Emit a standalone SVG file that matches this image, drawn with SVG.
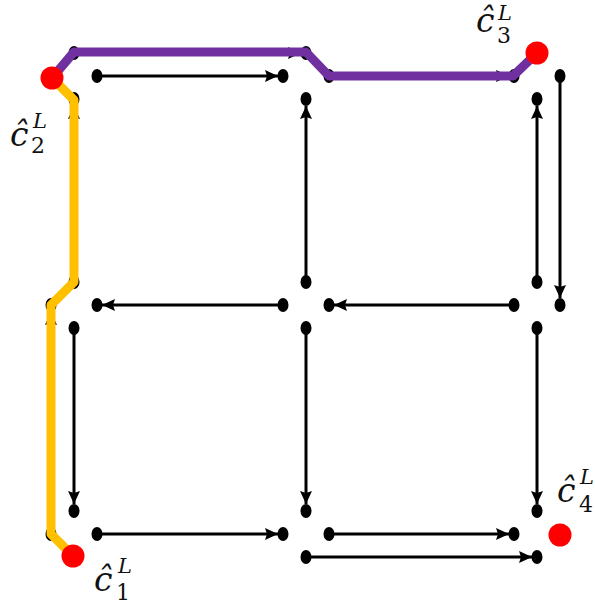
<svg xmlns="http://www.w3.org/2000/svg" width="595" height="606" viewBox="0 0 595 606">
<style>
.e{stroke:#000;stroke-width:3;fill:none;marker-end:url(#ah)}
.d{fill:#000}
.p{fill:none;stroke-width:9;stroke-linejoin:round;stroke-linecap:butt}
.r{fill:#ff0000}
text{font-family:'DejaVu Serif','Liberation Serif',serif;fill:#111}
.m{font-style:italic;font-size:33px}
.s{font-style:italic;font-size:21px}
.n{font-size:22px}
</style>
<defs>
<marker id="ah" markerUnits="userSpaceOnUse" markerWidth="13" markerHeight="13" viewBox="0 0 13 13" refX="13" refY="6.5" orient="auto">
<path d="M0,0.5 L13,6.5 L0,12.5 L2,6.5 Z" fill="#000"/>
</marker>
</defs>
<rect width="595" height="606" fill="#fff"/>
<g id="connectors">
<line class="e" x1="97" y1="76" x2="278" y2="76"/>
<line class="e" x1="306" y1="282" x2="306" y2="106"/>
<line class="e" x1="537" y1="282" x2="537" y2="106"/>
<line class="e" x1="560" y1="76" x2="560" y2="298"/>
<line class="e" x1="514" y1="305" x2="334" y2="305"/>
<line class="e" x1="283" y1="305" x2="102" y2="305"/>
<line class="e" x1="74" y1="328" x2="74" y2="504"/>
<line class="e" x1="306" y1="328" x2="306" y2="504"/>
<line class="e" x1="537" y1="328" x2="537" y2="504"/>
<line class="e" x1="97" y1="534" x2="278" y2="534"/>
<line class="e" x1="329" y1="534" x2="509" y2="534"/>
<line class="e" x1="306" y1="557" x2="532" y2="557"/>
<line class="e" x1="74" y1="53" x2="301" y2="53"/>
<line class="e" x1="329" y1="76" x2="509" y2="76"/>
<line class="e" x1="74" y1="282" x2="74" y2="106"/>
<line class="e" x1="51" y1="534" x2="51" y2="312"/>
</g>
<g id="node-tl"><ellipse class="d" cx="74" cy="53" rx="5.5" ry="7"/><ellipse class="d" cx="74" cy="99" rx="5.5" ry="7"/><ellipse class="d" cx="51" cy="76" rx="5.5" ry="7"/><ellipse class="d" cx="97" cy="76" rx="5.5" ry="7"/></g>
<g id="node-tm"><ellipse class="d" cx="306" cy="53" rx="5.5" ry="7"/><ellipse class="d" cx="306" cy="99" rx="5.5" ry="7"/><ellipse class="d" cx="283" cy="76" rx="5.5" ry="7"/><ellipse class="d" cx="329" cy="76" rx="5.5" ry="7"/></g>
<g id="node-tr"><ellipse class="d" cx="537" cy="53" rx="5.5" ry="7"/><ellipse class="d" cx="537" cy="99" rx="5.5" ry="7"/><ellipse class="d" cx="514" cy="76" rx="5.5" ry="7"/><ellipse class="d" cx="560" cy="76" rx="5.5" ry="7"/></g>
<g id="node-ml"><ellipse class="d" cx="74" cy="282" rx="5.5" ry="7"/><ellipse class="d" cx="74" cy="328" rx="5.5" ry="7"/><ellipse class="d" cx="51" cy="305" rx="5.5" ry="7"/><ellipse class="d" cx="97" cy="305" rx="5.5" ry="7"/></g>
<g id="node-mm"><ellipse class="d" cx="306" cy="282" rx="5.5" ry="7"/><ellipse class="d" cx="306" cy="328" rx="5.5" ry="7"/><ellipse class="d" cx="283" cy="305" rx="5.5" ry="7"/><ellipse class="d" cx="329" cy="305" rx="5.5" ry="7"/></g>
<g id="node-mr"><ellipse class="d" cx="537" cy="282" rx="5.5" ry="7"/><ellipse class="d" cx="537" cy="328" rx="5.5" ry="7"/><ellipse class="d" cx="514" cy="305" rx="5.5" ry="7"/><ellipse class="d" cx="560" cy="305" rx="5.5" ry="7"/></g>
<g id="node-bl"><ellipse class="d" cx="74" cy="511" rx="5.5" ry="7"/><ellipse class="d" cx="74" cy="557" rx="5.5" ry="7"/><ellipse class="d" cx="51" cy="534" rx="5.5" ry="7"/><ellipse class="d" cx="97" cy="534" rx="5.5" ry="7"/></g>
<g id="node-bm"><ellipse class="d" cx="306" cy="511" rx="5.5" ry="7"/><ellipse class="d" cx="306" cy="557" rx="5.5" ry="7"/><ellipse class="d" cx="283" cy="534" rx="5.5" ry="7"/><ellipse class="d" cx="329" cy="534" rx="5.5" ry="7"/></g>
<g id="node-br"><ellipse class="d" cx="537" cy="511" rx="5.5" ry="7"/><ellipse class="d" cx="537" cy="557" rx="5.5" ry="7"/><ellipse class="d" cx="514" cy="534" rx="5.5" ry="7"/><ellipse class="d" cx="560" cy="534" rx="5.5" ry="7"/></g>
<g id="paths">
<polyline class="p" stroke="#ffc000" points="52,78 74,100 74,282 51,305 51,534 73,556"/>
<polyline class="p" stroke="#7030a0" points="52,78 74,52 306,52 329,76 513,76 537,53"/>
</g>
<g id="c1"><circle class="r" cx="73" cy="556" r="11.5"/><text class="m" x="94" y="591">ĉ</text><text class="s" x="118" y="573">L</text><text class="n" x="116" y="600">1</text></g>
<g id="c2"><circle class="r" cx="52" cy="78" r="11.5"/><text class="m" x="10" y="146">ĉ</text><text class="s" x="33" y="128">L</text><text class="n" x="31" y="153">2</text></g>
<g id="c3"><circle class="r" cx="537" cy="53" r="11.5"/><text class="m" x="476" y="32">ĉ</text><text class="s" x="498" y="20">L</text><text class="n" x="497" y="43">3</text></g>
<g id="c4"><circle class="r" cx="560" cy="535" r="11.5"/><text class="m" x="557" y="502">ĉ</text><text class="s" x="580" y="484">L</text><text class="n" x="579" y="512">4</text></g>
</svg>
